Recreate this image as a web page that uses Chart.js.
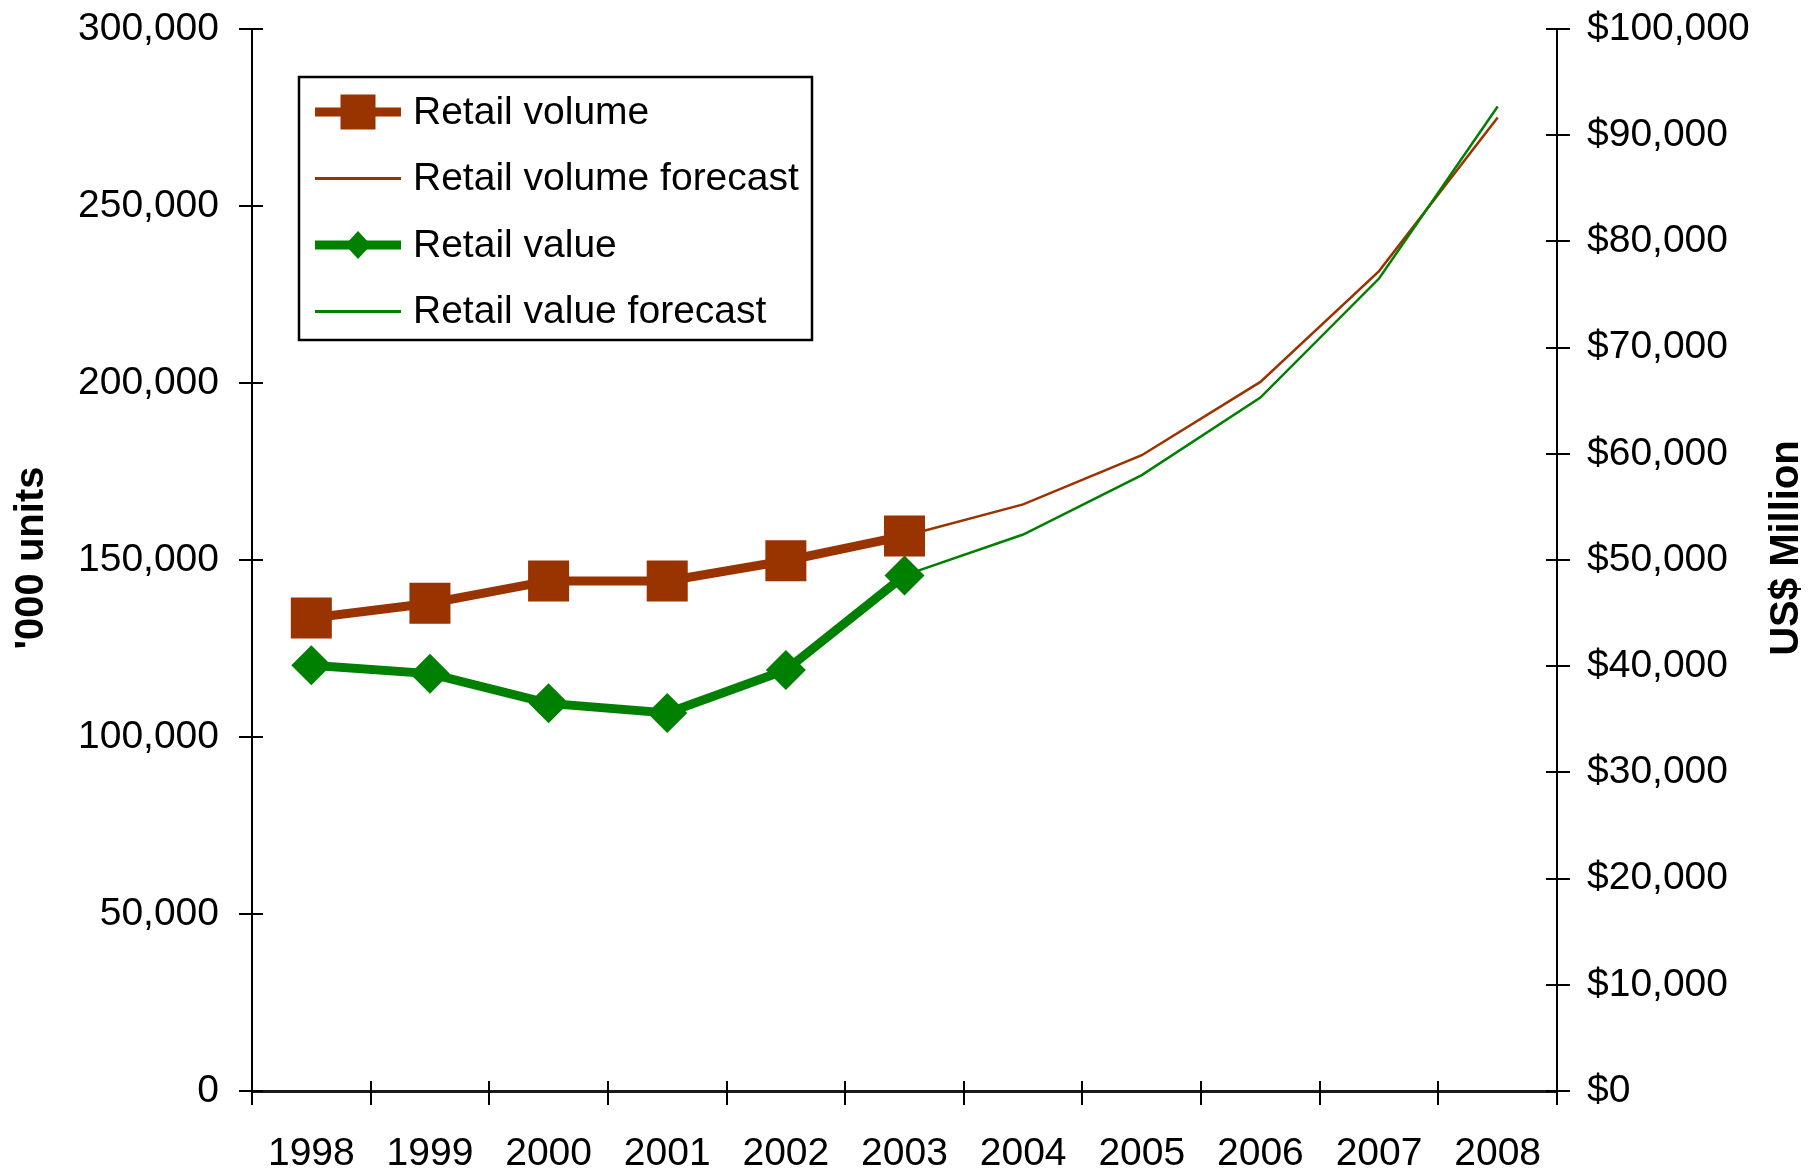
<!DOCTYPE html>
<html>
<head>
<meta charset="utf-8">
<script src="https://cdn.jsdelivr.net/npm/chart.js@4.4.1/dist/chart.umd.min.js"></script>
<style>
  html, body { margin: 0; padding: 0; background: #ffffff; }
  #wrap { width: 1811px; height: 1173px; position: relative; }
</style>
</head>
<body>
<div id="wrap"><canvas id="c" width="1811" height="1173"></canvas></div>
<script>
// ---- data ----
const years = ['1998','1999','2000','2001','2002','2003','2004','2005','2006','2007','2008'];
const retailVolume         = [133600, 137800, 144100, 144100, 149800, 156800, null, null, null, null, null];
const retailVolumeForecast = [null, null, null, null, null, 156800, 165700, 179600, 200300, 231600, 275000];
const retailValue          = [40100, 39300, 36500, 35600, 39650, 48550, null, null, null, null, null];
const retailValueForecast  = [null, null, null, null, null, 48550, 52400, 58000, 65300, 76500, 92700];
const leftTicks  = { min: 0, max: 300000, step: 50000 };
const rightTicks = { min: 0, max: 100000, step: 10000 };
const seriesNames = ['Retail volume', 'Retail volume forecast', 'Retail value', 'Retail value forecast'];
const axisTitles = { left: "'000 units", right: 'US$ Million' };

const BROWN = '#993300';
const GREEN = '#008000';
const FONT = '"Liberation Sans", Arial, sans-serif';

// crossing tick marks (Excel style)
const crossTicks = {
  id: 'crossTicks',
  beforeDatasetsDraw(chart) {
    const ctx = chart.ctx;
    ctx.save();
    ctx.strokeStyle = '#000';
    ctx.lineWidth = 2;
    const yl = chart.scales.y;
    yl.ticks.forEach((t, i) => {
      const p = Math.round(yl.getPixelForTick(i));
      ctx.beginPath(); ctx.moveTo(yl.right - 13, p); ctx.lineTo(yl.right + 11, p); ctx.stroke();
    });
    const yr = chart.scales.y1;
    yr.ticks.forEach((t, i) => {
      const p = Math.round(yr.getPixelForTick(i));
      ctx.beginPath(); ctx.moveTo(yr.left - 11, p); ctx.lineTo(yr.left + 13, p); ctx.stroke();
    });
    const xs = chart.scales.x;
    for (let i = 0; i <= years.length; i++) {
      const p = Math.round(xs.getPixelForValue(i - 0.5));
      ctx.beginPath(); ctx.moveTo(p, xs.top - 10); ctx.lineTo(p, xs.top + 14); ctx.stroke();
    }
    ctx.restore();
  }
};

// axis titles + legend box
const extras = {
  id: 'extras',
  afterDraw(chart) {
    const ctx = chart.ctx;
    const ca = chart.chartArea;
    const midY = (ca.top + ca.bottom) / 2;
    ctx.save();
    ctx.fillStyle = '#000';
    ctx.font = 'bold 40px ' + FONT;
    ctx.textAlign = 'center';
    ctx.textBaseline = 'middle';
    ctx.save(); ctx.translate(32, midY - 2); ctx.rotate(-Math.PI / 2); ctx.fillText(axisTitles.left, 0, 0); ctx.restore();
    ctx.save(); ctx.translate(1787, midY - 12); ctx.rotate(-Math.PI / 2); ctx.fillText(axisTitles.right, 0, 0); ctx.restore();

    // legend
    const bx = 299, by = 77, bw = 513, bh = 263;
    ctx.fillStyle = '#fff';
    ctx.fillRect(bx, by, bw, bh);
    ctx.strokeStyle = '#000';
    ctx.lineWidth = 2.5;
    ctx.strokeRect(bx, by, bw, bh);
    const rows = [112, 178.5, 245, 311.5];
    const x0 = 315, x1 = 401, xm = (x0 + x1) / 2;
    const ds = chart.data.datasets;
    [0, 1, 2, 3].forEach((k, r) => {
      const d = ds[k];
      const y = rows[r];
      ctx.strokeStyle = d.borderColor;
      ctx.lineWidth = d.legendLineWidth;
      ctx.lineCap = 'butt';
      ctx.beginPath(); ctx.moveTo(x0, y); ctx.lineTo(x1, y); ctx.stroke();
      ctx.fillStyle = d.borderColor;
      if (d.pointStyle === 'rect') {
        ctx.fillRect(xm - 17.5, y - 17.5, 35, 35);
      } else if (d.pointStyle === 'rectRot') {
        ctx.beginPath();
        ctx.moveTo(xm - 13, y); ctx.lineTo(xm, y - 14); ctx.lineTo(xm + 13, y); ctx.lineTo(xm, y + 14);
        ctx.closePath(); ctx.fill();
      }
      ctx.fillStyle = '#000';
      ctx.font = '39px ' + FONT;
      ctx.textAlign = 'left';
      ctx.textBaseline = 'middle';
      ctx.fillText(d.label, 413, y + 1);
    });
    ctx.restore();
  }
};

const tickFont = { family: FONT, size: 39 };

new Chart(document.getElementById('c'), {
  type: 'line',
  data: {
    labels: years,
    datasets: [
      { label: seriesNames[0], data: retailVolume, yAxisID: 'y', borderColor: BROWN, backgroundColor: BROWN,
        borderWidth: 9, pointStyle: 'rect', pointRadius: 29, pointHoverRadius: 29, pointBorderWidth: 0,
        pointBackgroundColor: BROWN, legendLineWidth: 9, order: 1 },
      { label: seriesNames[1], data: retailVolumeForecast, yAxisID: 'y', borderColor: BROWN, backgroundColor: BROWN,
        borderWidth: 2.5, pointRadius: 0, legendLineWidth: 3, order: 4, pointStyle: false },
      { label: seriesNames[2], data: retailValue, yAxisID: 'y1', borderColor: GREEN, backgroundColor: GREEN,
        borderWidth: 9, pointStyle: 'rectRot', pointRadius: 20, pointHoverRadius: 20, pointBorderWidth: 0,
        pointBackgroundColor: GREEN, legendLineWidth: 9, order: 2 },
      { label: seriesNames[3], data: retailValueForecast, yAxisID: 'y1', borderColor: GREEN, backgroundColor: GREEN,
        borderWidth: 2.5, pointRadius: 0, legendLineWidth: 3, order: 3, pointStyle: false }
    ]
  },
  options: {
    responsive: false,
    animation: false,
    devicePixelRatio: 1,
    layout: { padding: { top: 23, left: 0, right: 0, bottom: 0 } },
    plugins: { legend: { display: false }, tooltip: { enabled: false }, title: { display: false } },
    elements: { line: { tension: 0, borderJoinStyle: 'miter', borderCapStyle: 'butt' } },
    scales: {
      x: {
        type: 'category',
        offset: true,
        grid: { display: true, drawOnChartArea: false, drawTicks: false, offset: true },
        border: { display: true, color: '#1a1a1a', width: 3 },
        ticks: { color: '#000', font: tickFont, padding: 40, maxRotation: 0, autoSkip: false },
        afterFit(s) { s.height = 82; s.paddingLeft = 0; s.paddingRight = 0; }
      },
      y: {
        position: 'left',
        min: leftTicks.min, max: leftTicks.max,
        grid: { display: true, drawOnChartArea: false, drawTicks: false },
        border: { display: true, color: '#000', width: 2 },
        ticks: { stepSize: leftTicks.step, color: '#000', font: tickFont, padding: 33,
                 callback: v => v.toLocaleString('en-US') },
        afterFit(s) { s.width = 252; s.paddingTop = 0; s.paddingBottom = 0; }
      },
      y1: {
        position: 'right',
        min: rightTicks.min, max: rightTicks.max,
        grid: { display: true, drawOnChartArea: false, drawTicks: false },
        border: { display: true, color: '#000', width: 2 },
        ticks: { stepSize: rightTicks.step, color: '#000', font: tickFont, padding: 30,
                 callback: v => '$' + v.toLocaleString('en-US') },
        afterFit(s) { s.width = 254; s.paddingTop = 0; s.paddingBottom = 0; }
      }
    }
  },
  plugins: [crossTicks, extras]
});
</script>
</body>
</html>
